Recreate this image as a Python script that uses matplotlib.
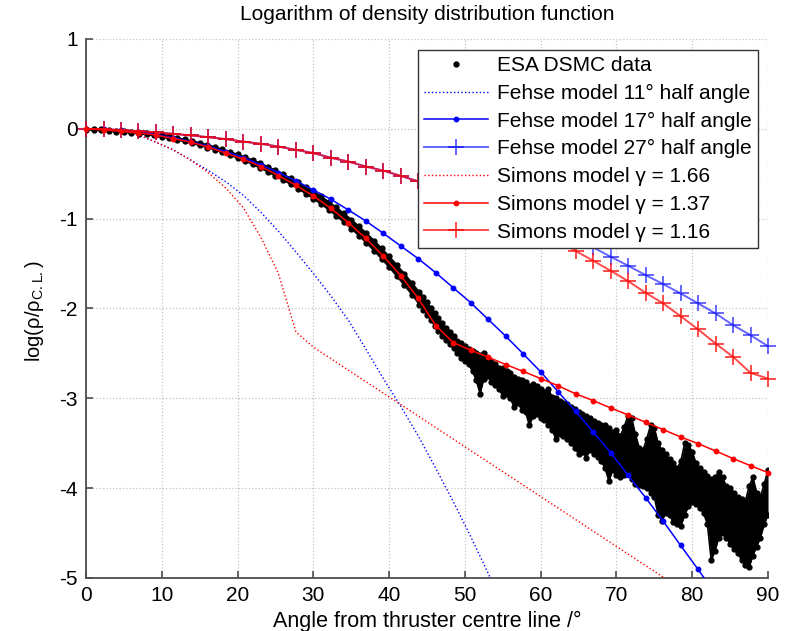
import numpy as np
import matplotlib
matplotlib.use("Agg")
import matplotlib.pyplot as plt

plt.rcParams["font.family"] = ["Liberation Sans", "DejaVu Sans"]
plt.rcParams["mathtext.fontset"] = "custom"
plt.rcParams["mathtext.rm"] = "Liberation Sans"
plt.rcParams["axes.unicode_minus"] = False

# model curves are sampled on 40 angles from 0 to 90 deg
model_angle = np.linspace(0, 90, 40)

fehse_11 = [0, -0.005, -0.02, -0.065, -0.15, -0.235, -0.35, -0.465, -0.59, -0.74,
            -0.93, -1.14, -1.37, -1.61, -1.86, -2.13, -2.45, -2.78, -3.09, -3.42,
            -3.78, -4.15, -4.54, -4.95, -5.38, -5.83]
fehse_17 = [0, -0.004, -0.016, -0.036, -0.064, -0.1, -0.143, -0.195, -0.255, -0.32,
            -0.40, -0.487, -0.58, -0.68, -0.784, -0.903, -1.026, -1.163, -1.304, -1.446,
            -1.602, -1.769, -1.936, -2.122, -2.308, -2.505, -2.705, -2.928, -3.144, -3.374,
            -3.604, -3.857, -4.106, -4.366, -4.637, -4.905, -5.18]
fehse_27 = [0, -0.004, -0.014, -0.027, -0.04, -0.056, -0.074, -0.093, -0.115, -0.142,
            -0.167, -0.197, -0.234, -0.27, -0.322, -0.364, -0.42, -0.465, -0.524, -0.584,
            -0.646, -0.71, -0.776, -0.844, -0.914, -0.987, -1.063, -1.141, -1.221, -1.32,
            -1.423, -1.524, -1.628, -1.728, -1.832, -1.943, -2.055, -2.185, -2.297, -2.42]
simons_166 = [0, -0.005, -0.02, -0.065, -0.15, -0.235, -0.35, -0.49, -0.66, -0.88,
              -1.21, -1.61, -2.26, -2.43, -2.558, -2.686, -2.814, -2.942, -3.07, -3.198,
              -3.326, -3.454, -3.582, -3.71, -3.838, -3.966, -4.094, -4.222, -4.35, -4.478,
              -4.606, -4.734, -4.862, -4.99, -5.118]
simons_137 = [0, -0.012, -0.028, -0.045, -0.07, -0.108, -0.149, -0.204, -0.271, -0.338,
              -0.42, -0.52, -0.628, -0.747, -0.884, -1.045, -1.219, -1.416, -1.635, -1.888,
              -2.19, -2.38, -2.464, -2.542, -2.624, -2.70, -2.78, -2.86, -2.95, -3.025,
              -3.107, -3.185, -3.266, -3.348, -3.43, -3.504, -3.586, -3.67, -3.75, -3.827]
simons_116 = [0, -0.004, -0.014, -0.027, -0.04, -0.056, -0.074, -0.093, -0.115, -0.142,
              -0.167, -0.197, -0.234, -0.27, -0.322, -0.364, -0.42, -0.465, -0.524, -0.586,
              -0.652, -0.722, -0.797, -0.877, -0.962, -1.052, -1.147, -1.247, -1.36, -1.468,
              -1.58, -1.695, -1.825, -1.943, -2.085, -2.233, -2.39, -2.538, -2.717, -2.78]

# ESA DSMC data: upper and lower edge of the point cloud
dsmc_angle = np.concatenate([np.arange(0, 44, 1.0), np.arange(44, 90.01, 0.5)])
dsmc_high = [0.0, -0.002, -0.007, -0.013, -0.02, -0.027, -0.035, -0.042, -0.051, -0.06,
             -0.071, -0.085, -0.1, -0.117, -0.135, -0.156, -0.178, -0.202, -0.228, -0.256,
             -0.285, -0.315, -0.348, -0.384, -0.422, -0.463, -0.505, -0.55, -0.596, -0.645,
             -0.697, -0.752, -0.811, -0.874, -0.94, -1.01, -1.084, -1.162, -1.244, -1.33,
             -1.42, -1.514, -1.612, -1.715,
             -1.82, -1.876, -1.932, -1.99, -2.05, -2.11, -2.165, -2.215, -2.265, -2.31,
             -2.36, -2.38, -2.42, -2.45, -2.47, -2.50, -2.52, -2.50, -2.55, -2.60,
             -2.62, -2.66, -2.66, -2.70, -2.72, -2.76, -2.78, -2.80, -2.82, -2.86,
             -2.84, -2.86, -2.90, -2.93, -2.90, -2.98, -3.00, -3.03, -3.05, -3.06,
             -3.10, -3.12, -3.15, -3.18, -3.20, -3.22, -3.25, -3.27, -3.30, -3.30,
             -3.33, -3.38, -3.35, -3.42, -3.32, -3.20, -3.22, -3.40, -3.55, -3.58,
             -3.45, -3.30, -3.33, -3.50, -3.58, -3.62, -3.68, -3.72, -3.78, -3.70,
             -3.50, -3.52, -3.60, -3.72, -3.78, -3.82, -3.86, -3.90, -3.88, -3.82,
             -3.88, -3.98, -4.00, -4.05, -4.10, -4.12, -4.15, -3.98, -3.88, -4.05,
             -4.10, -3.95, -3.80]
dsmc_low = [-0.01, -0.012, -0.017, -0.023, -0.03, -0.037, -0.045, -0.054, -0.063, -0.074,
            -0.089, -0.105, -0.122, -0.141, -0.161, -0.184, -0.208, -0.234, -0.262, -0.292,
            -0.325, -0.359, -0.396, -0.436, -0.478, -0.523, -0.569, -0.616, -0.666, -0.721,
            -0.777, -0.836, -0.899, -0.966, -1.036, -1.11, -1.188, -1.27, -1.356, -1.446,
            -1.54, -1.638, -1.74, -1.845,
            -1.956, -2.012, -2.068, -2.13, -2.19, -2.25, -2.305, -2.355, -2.395, -2.44,
            -2.50, -2.55, -2.58, -2.62, -2.70, -2.80, -2.95, -2.78, -2.75, -2.82,
            -2.85, -2.90, -2.97, -2.95, -3.00, -3.10, -3.05, -3.13, -3.15, -3.30,
            -3.20, -3.18, -3.22, -3.24, -3.30, -3.35, -3.45, -3.40, -3.42, -3.45,
            -3.50, -3.55, -3.62, -3.60, -3.66, -3.58, -3.62, -3.65, -3.70, -3.78,
            -3.92, -3.80, -3.85, -3.88, -3.85, -3.82, -3.90, -3.95, -3.97, -3.98,
            -4.00, -4.05, -4.10, -4.30, -4.36, -4.28, -4.30, -4.38, -4.40, -4.42,
            -4.30, -4.20, -4.15, -4.18, -4.22, -4.28, -4.40, -4.80, -4.70, -4.55,
            -4.50, -4.55, -4.62, -4.68, -4.72, -4.80, -4.86, -4.88, -4.75, -4.65,
            -4.55, -4.40, -4.30]
assert len(dsmc_angle) == len(dsmc_high) == len(dsmc_low)

fig = plt.figure(figsize=(7.9, 6.31), dpi=100)
ax = fig.add_axes([0.1089, 0.0840, 0.8633, 0.8542])

# data cloud
ax.fill_between(dsmc_angle, dsmc_low, dsmc_high, color="k", lw=0, zorder=2)
ax.plot(dsmc_angle, dsmc_high, color="k", marker="o", ms=3.5, lw=1.2, zorder=2)
ax.plot(dsmc_angle, dsmc_low, color="k", marker="o", ms=3.5, lw=1.2, zorder=2)
ax.plot([], [], "k.", ls="none", ms=7, label="ESA DSMC data")

blue = (0, 0, 1)
red = (1, 0, 0)
ax.plot(model_angle[:len(fehse_11)], fehse_11, color=blue, ls=":", lw=1.0,
        label="Fehse model 11° half angle", zorder=3)
ax.plot(model_angle[:len(fehse_17)], fehse_17, color=blue, lw=1.1, marker="o", ms=3.2,
        label="Fehse model 17° half angle", zorder=3)
ax.plot(model_angle, fehse_27, color=blue, alpha=0.6, lw=1.4, marker="+", ms=11, mew=1.4,
        label="Fehse model 27° half angle", zorder=3, clip_on=False)
ax.plot(model_angle[:len(simons_166)], simons_166, color=red, ls=":", lw=1.0,
        label="Simons model γ = 1.66", zorder=4)
ax.plot(model_angle, simons_137, color=red, lw=1.1, marker="o", ms=3.2,
        label="Simons model γ = 1.37", zorder=4, clip_on=False)
ax.plot(model_angle, simons_116, color=red, alpha=0.7, lw=1.4, marker="+", ms=11, mew=1.4,
        label="Simons model γ = 1.16", zorder=4, clip_on=False)

ax.set_xlim(0, 90)
ax.set_ylim(-5, 1)
ax.set_xticks(range(0, 91, 10))
ax.set_yticks(range(-5, 2))
ax.grid(True, color="#c4c4c4", ls=":", lw=0.9)
ax.set_axisbelow(True)
for side in ["top", "right"]:
    ax.spines[side].set_visible(False)
for side in ["left", "bottom"]:
    ax.spines[side].set_color("#4d4d4d")
    ax.spines[side].set_linewidth(1.3)
ax.tick_params(direction="in", length=5, width=1.2, color="#4d4d4d",
               labelsize=15, pad=6)

fig.text(0.5405, 1 - 15 / 631, "Logarithm of density distribution function",
         ha="center", va="center", fontsize=15)
fig.text(0.5405, 1 - 621 / 631, "Angle from thruster centre line /°",
         ha="center", va="center", fontsize=15.5)
fig.text(34 / 790, 1 - 311 / 631, r"log(ρ/ρ$_{\mathrm{C.L.}}$)", rotation=90,
         ha="center", va="center", fontsize=14.5)

leg = ax.legend(loc="upper right", bbox_to_anchor=(0.985, 0.98), borderaxespad=0,
                fontsize=15, numpoints=1, handlelength=3.1, handletextpad=0.4,
                labelspacing=0.42, borderpad=0.3, fancybox=False, framealpha=1)
leg.get_frame().set_edgecolor("#333333")
leg.get_frame().set_linewidth(1.0)

plt.savefig("out.png", dpi=100)
